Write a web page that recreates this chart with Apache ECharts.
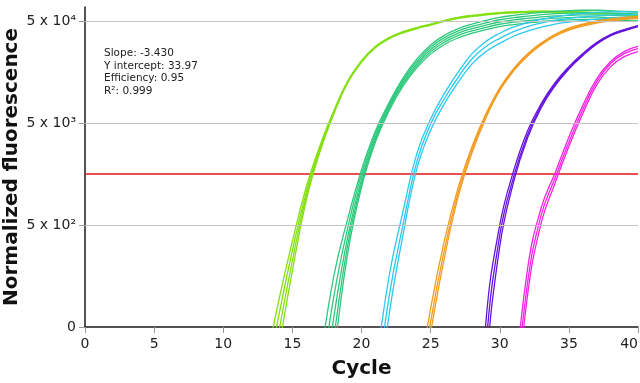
<!DOCTYPE html>
<html><head><meta charset="utf-8">
<script src="https://cdn.jsdelivr.net/npm/echarts@6/dist/echarts.min.js"></script>
<style>html,body{margin:0;padding:0;background:#fff}#c{width:640px;height:383px}</style>
</head><body><div id="c"></div>
<script>
// y values are log10(fluorescence / 50): 0 -> "0", 1 -> 5x10^2, 2 -> 5x10^3, 3 -> 5x10^4
const yTickLabels = ['0', '5 x 10²', '5 x 10³', '5 x 10⁴'];
const xTicks = [0, 5, 10, 15, 20, 25, 30, 35, 40];
const threshold = 1.5;
const statsText = ['Slope: -3.430', 'Y intercept: 33.97', 'Efficiency: 0.95', 'R²: 0.999'];

// group 1 (cycles 13..40)
const g1Start = 13;
const g1 = [
  [-0.42, 0.25, 0.84, 1.37, 1.78, 2.12, 2.41, 2.61, 2.75, 2.838, 2.895, 2.935, 2.97, 3.005, 3.035, 3.055, 3.07, 3.082, 3.09, 3.095, 3.097, 3.095, 3.092, 3.088, 3.083, 3.077, 3.071, 3.065],
  [-0.62, 0.1, 0.75, 1.32, 1.76, 2.11, 2.405, 2.605, 2.746, 2.834, 2.891, 2.932, 2.967, 3.002, 3.032, 3.052, 3.067, 3.079, 3.087, 3.092, 3.094, 3.092, 3.089, 3.085, 3.08, 3.074, 3.068, 3.062],
  [-0.8, -0.06, 0.65, 1.28, 1.74, 2.1, 2.4, 2.6, 2.742, 2.83, 2.887, 2.928, 2.963, 2.998, 3.028, 3.048, 3.063, 3.075, 3.083, 3.088, 3.09, 3.088, 3.085, 3.081, 3.076, 3.07, 3.064, 3.058],
  [-1.0, -0.22, 0.55, 1.24, 1.72, 2.09, 2.395, 2.596, 2.738, 2.826, 2.883, 2.925, 2.96, 2.995, 3.025, 3.045, 3.06, 3.072, 3.08, 3.085, 3.087, 3.085, 3.082, 3.078, 3.073, 3.067, 3.061, 3.055]
];
// group 2 (cycles 16..40)
const g2Start = 16;
const g2 = [
  [-1.5, -0.35, 0.5, 1.06, 1.54, 1.92, 2.2, 2.44, 2.625, 2.765, 2.86, 2.925, 2.97, 3.005, 3.035, 3.055, 3.07, 3.085, 3.095, 3.1, 3.105, 3.105, 3.1, 3.095, 3.09],
  [-1.75, -0.62, 0.3, 0.97, 1.5, 1.89, 2.18, 2.42, 2.6, 2.742, 2.837, 2.902, 2.947, 2.982, 3.012, 3.032, 3.047, 3.062, 3.072, 3.077, 3.082, 3.082, 3.077, 3.072, 3.067],
  [-2.0, -0.9, 0.1, 0.88, 1.45, 1.86, 2.16, 2.4, 2.58, 2.72, 2.815, 2.88, 2.925, 2.96, 2.99, 3.01, 3.025, 3.04, 3.05, 3.055, 3.06, 3.06, 3.055, 3.05, 3.045],
  [-2.2, -1.1, -0.1, 0.8, 1.41, 1.835, 2.14, 2.38, 2.56, 2.698, 2.793, 2.858, 2.903, 2.938, 2.968, 2.988, 3.003, 3.018, 3.028, 3.033, 3.038, 3.038, 3.033, 3.028, 3.023],
  [-2.4, -1.3, -0.28, 0.72, 1.37, 1.81, 2.12, 2.36, 2.54, 2.675, 2.77, 2.835, 2.88, 2.915, 2.945, 2.965, 2.98, 2.995, 3.005, 3.01, 3.015, 3.015, 3.01, 3.005, 3.0]
];
// group 3 (cycles 20..40)
const g3Start = 20;
const g3 = [
  [-1.7, -0.45, 0.5, 1.13, 1.7, 2.04, 2.29, 2.5, 2.68, 2.8, 2.88, 2.94, 2.985, 3.015, 3.04, 3.06, 3.075, 3.085, 3.09, 3.09, 3.085],
  [-2.0, -0.7, 0.3, 1.0, 1.62, 1.99, 2.24, 2.45, 2.63, 2.75, 2.83, 2.895, 2.945, 2.98, 3.005, 3.025, 3.04, 3.05, 3.058, 3.062, 3.062],
  [-2.3, -0.95, 0.12, 0.9, 1.55, 1.93, 2.19, 2.4, 2.58, 2.7, 2.78, 2.85, 2.9, 2.94, 2.97, 2.99, 3.005, 3.018, 3.028, 3.035, 3.04]
];
// group 4 (cycles 23..40)
const g4Start = 23;
const g4 = [
  [-2.0, -0.68, 0.18, 0.85, 1.37, 1.77, 2.09, 2.345, 2.533, 2.677, 2.785, 2.87, 2.93, 2.97, 3.0, 3.02, 3.035, 3.045],
  [-2.2, -0.85, 0.05, 0.76, 1.32, 1.74, 2.07, 2.33, 2.52, 2.665, 2.775, 2.86, 2.92, 2.96, 2.99, 3.01, 3.025, 3.035],
  [-2.4, -1.0, -0.06, 0.68, 1.28, 1.71, 2.05, 2.318, 2.51, 2.655, 2.765, 2.85, 2.91, 2.95, 2.98, 3.0, 3.015, 3.025]
];
// group 5 (cycles 28..40)
const g5Start = 28;
const g5 = [
  [-2.2, 0.05, 1.0, 1.53, 1.92, 2.19, 2.395, 2.552, 2.68, 2.788, 2.867, 2.916, 2.955],
  [-2.5, -0.2, 0.9, 1.47, 1.88, 2.17, 2.38, 2.54, 2.67, 2.78, 2.86, 2.91, 2.95],
  [-2.8, -0.45, 0.79, 1.42, 1.85, 2.15, 2.365, 2.528, 2.66, 2.772, 2.853, 2.904, 2.945]
];
// group 6 (cycles 30..40)
const g6Start = 30;
const g6 = [
  [-2.2, -0.7, 0.56, 1.17, 1.51, 1.86, 2.17, 2.43, 2.6, 2.7, 2.75],
  [-2.5, -0.9, 0.42, 1.1, 1.46, 1.81, 2.13, 2.4, 2.58, 2.68, 2.73],
  [-2.8, -1.1, 0.3, 1.02, 1.41, 1.77, 2.09, 2.37, 2.55, 2.65, 2.7]
];

const groups = [
  { start: g1Start, reps: g1, color: '#84e012' },
  { start: g2Start, reps: g2, color: '#2cc97c' },
  { start: g3Start, reps: g3, color: '#29c9f0' },
  { start: g4Start, reps: g4, color: '#f39b1f' },
  { start: g5Start, reps: g5, color: '#6612df' },
  { start: g6Start, reps: g6, color: '#f423e2' }
];

const FONT = '"DejaVu Sans", Verdana, sans-serif';
const series = [];
series.push({
  type: 'line', name: 'threshold', silent: true, symbol: 'none', z: 1,
  data: [[xTicks[0], threshold], [xTicks[xTicks.length - 1], threshold]],
  lineStyle: { color: '#e31414', width: 1.5 },
  markLine: {
    silent: true, symbol: 'none', label: { show: false },
    lineStyle: { color: '#c4c4c4', width: 1, type: 'solid' },
    data: [{ yAxis: 1 }, { yAxis: 2 }, { yAxis: 3 }]
  }
});
groups.forEach(g => {
  g.reps.forEach(r => {
    series.push({
      type: 'line', symbol: 'none', smooth: 0.45, z: 3, clip: true,
      data: r.map((v, i) => [g.start + i, v]),
      lineStyle: { color: g.color, width: 1.3 }
    });
  });
});

const chart = echarts.init(document.getElementById('c'), null, { renderer: 'canvas' });
chart.setOption({
  animation: false,
  backgroundColor: '#fff',
  grid: { left: 85, right: 2, top: 7, bottom: 56, containLabel: false, outerBoundsMode: 'none' },
  xAxis: {
    type: 'value', min: 0, max: 40, interval: 5,
    name: 'Cycle', nameLocation: 'middle', nameGap: 32, nameMoveOverlap: false,
    nameTextStyle: { fontSize: 20, fontWeight: 'bold', color: '#111', fontFamily: FONT },
    axisLine: { show: true, onZero: false, lineStyle: { color: '#1a1a1a', width: 1.5 } },
    axisTick: { show: true, length: 6, lineStyle: { color: '#999' } },
    axisLabel: { fontSize: 14, color: '#222', fontFamily: FONT, margin: 10, alignMaxLabel: 'right' },
    splitLine: { show: false }
  },
  yAxis: {
    type: 'value', min: 0, max: 3.137, interval: 1,
    name: 'Normalized fluorescence', nameLocation: 'middle', nameGap: 63, nameMoveOverlap: false,
    nameTextStyle: { fontSize: 20, fontWeight: 'bold', color: '#111', fontFamily: FONT },
    axisLine: { show: true, lineStyle: { color: '#1a1a1a', width: 1.5 } },
    axisTick: { show: true, length: 6, lineStyle: { color: '#999' }, customValues: [0, 1, 2, 3] },
    axisLabel: {
      fontSize: 14, color: '#222', fontFamily: FONT, margin: 9,
      customValues: [0, 1, 2, 3],
      formatter: v => { const i = Math.round(v); return Math.abs(v - i) < 1e-6 && yTickLabels[i] !== undefined ? yTickLabels[i] : ''; }
    },
    splitLine: { show: false }
  },
  graphic: [{
    type: 'text', left: 104, top: 47.5, silent: true,
    style: { text: statsText.join('\n'), font: '10.5px ' + FONT, lineHeight: 12.5, fill: '#222' }
  }],
  series: series
});
</script>
</body></html>
